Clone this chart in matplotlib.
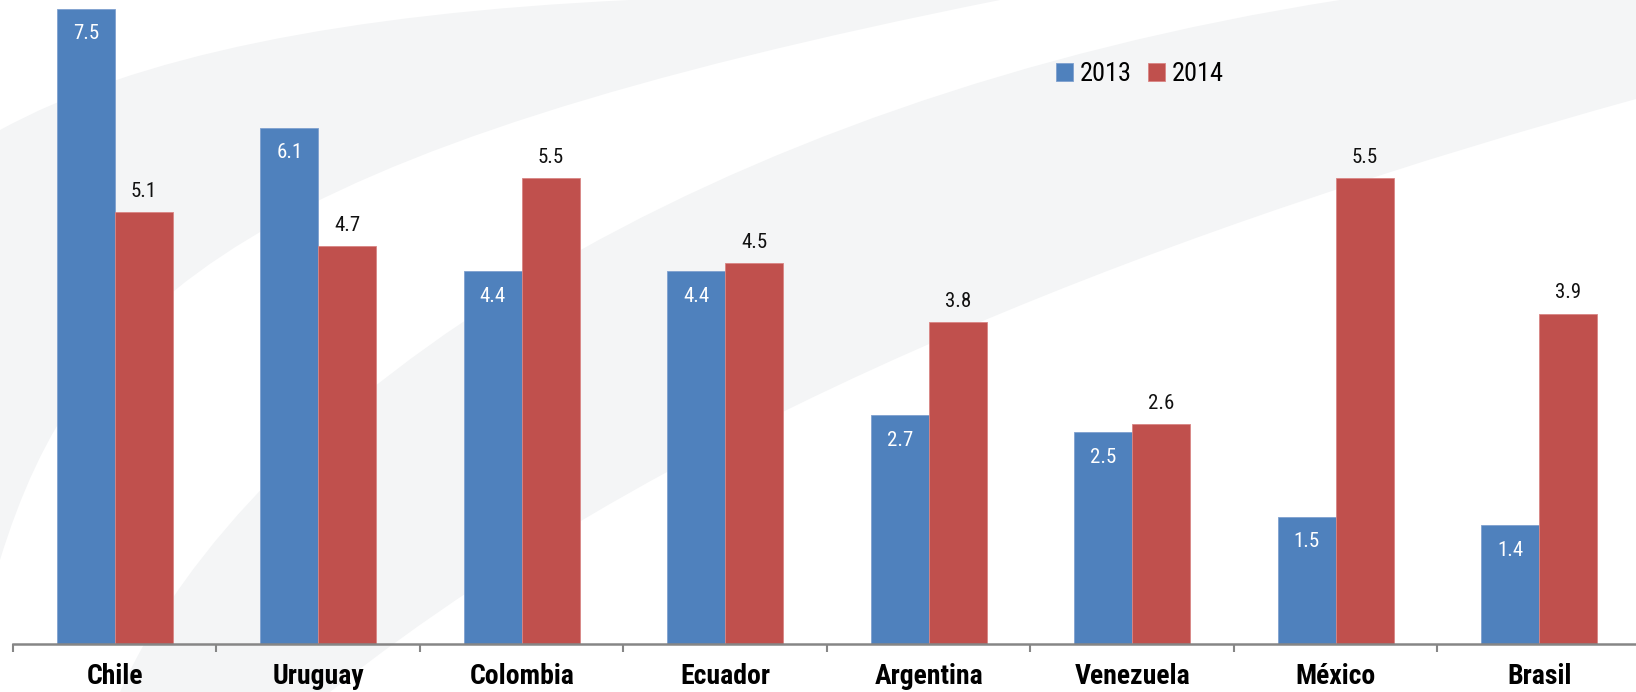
import matplotlib.pyplot as plt
from matplotlib.path import Path
from matplotlib.patches import PathPatch
from matplotlib import font_manager

countries = ['Chile', 'Uruguay', 'Colombia', 'Ecuador', 'Argentina', 'Venezuela', 'México', 'Brasil']
vals_2013 = [7.5, 6.1, 4.4, 4.4, 2.7, 2.5, 1.5, 1.4]
vals_2014 = [5.1, 4.7, 5.5, 4.5, 3.8, 2.6, 5.5, 3.9]

blue = '#4F81BD'
red = '#C0504D'

# prefer a narrow face if one is installed, otherwise Roboto
names = {f.name for f in font_manager.fontManager.ttflist}
family = 'Roboto'
for cand in ['Liberation Sans Narrow', 'Roboto Condensed', 'Open Sans Condensed', 'Arial Narrow']:
    if cand in names:
        family = cand
        break
plt.rcParams['font.family'] = [family, 'DejaVu Sans']

fig = plt.figure(figsize=(16.36, 6.92), dpi=100)

# faint swoosh watermark behind the bars (figure pixel coords, y down)
bg = fig.add_axes([0, 0, 1, 1], zorder=0)
bg.set_xlim(0, 1636)
bg.set_ylim(692, 0)
bg.axis('off')
C3, C4, L, M = Path.CURVE3, Path.CURVE4, Path.LINETO, Path.MOVETO
band_a = Path([(630, 0), (200, 20), (0, 130), (0, 560), (80, 300), (250, 150), (1000, 0), (630, 0)],
              [M, C3, C3, L, C4, C4, C4, Path.CLOSEPOLY])
band_b = Path([(120, 692), (250, 400), (700, 100), (1340, 0), (1636, 0), (1636, 99),
               (1200, 220), (700, 400), (330, 692), (120, 692)],
              [M, C4, C4, C4, L, L, C4, C4, C4, Path.CLOSEPOLY])
for p in (band_a, band_b):
    bg.add_patch(PathPatch(p, facecolor='#f4f5f6', edgecolor='none'))

ax = fig.add_axes([13 / 1636, 48 / 692, 1628 / 1636, 644 / 692], zorder=1)
ax.patch.set_alpha(0)

x = list(range(len(countries)))
w = 0.285
b1 = ax.bar([i - w / 2 for i in x], vals_2013, w, color=blue, edgecolor='#7FA0CF', linewidth=0.6, label='2013')
b2 = ax.bar([i + w / 2 for i in x], vals_2014, w, color=red, edgecolor='#D98584', linewidth=0.6, label='2014')

for rect, v in zip(b1, vals_2013):
    ax.annotate(f'{v:.1f}', (rect.get_x() + rect.get_width() / 2, v), xytext=(0, -18),
                textcoords='offset points', ha='center', va='center', color='white', fontsize=15)
for rect, v in zip(b2, vals_2014):
    ax.annotate(f'{v:.1f}', (rect.get_x() + rect.get_width() / 2, v), xytext=(0, 15),
                textcoords='offset points', ha='center', va='center', color='#111111', fontsize=15)

ax.set_xlim(-0.5, len(countries) - 0.5)
ax.set_ylim(0, 7.606)
ax.set_yticks([])
ax.set_xticks(x)
ax.set_xticklabels(countries, fontsize=20, fontweight='bold')
ax.set_xticks([i - 0.5 for i in range(len(countries) + 1)], minor=True)
ax.tick_params(axis='x', which='major', length=0, pad=14)
ax.tick_params(axis='x', which='minor', length=6, width=1.5, color='#868686')
for s in ['top', 'right', 'left']:
    ax.spines[s].set_visible(False)
ax.spines['bottom'].set_color('#868686')
ax.spines['bottom'].set_linewidth(1.8)

fig.legend(handles=[b1, b2], labels=['2013', '2014'], loc='center',
           bbox_to_anchor=(1140 / 1636, 1 - 74 / 692), ncol=2, frameon=False,
           fontsize=19, handlelength=0.65, handleheight=0.65, handletextpad=0.25,
           columnspacing=0.6)

fig.savefig('out.png', dpi=100)
